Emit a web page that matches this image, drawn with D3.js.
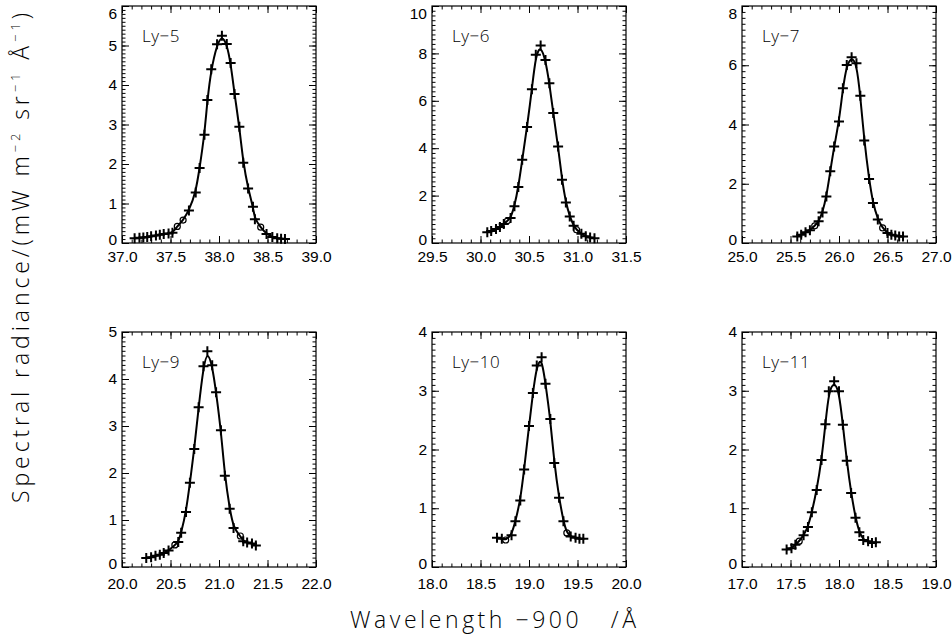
<!DOCTYPE html>
<html>
<head>
<meta charset="utf-8">
<script src="https://cdn.jsdelivr.net/npm/d3@7"></script>
<style>
  body { margin: 0; background: #fff; }
  svg { display: block; }
  .tick text { font-family: "Liberation Sans", Arial, sans-serif; font-size: 15.5px; fill: #000; }
  .title { font-family: "Open Sans", "DejaVu Sans", sans-serif; font-weight: 300; fill: #000; }
</style>
</head>
<body>
<div id="chart"></div>
<script>
// Lyman line profiles, wavelength offset from 900 A, radiance in mW m-2 sr-1 A-1

var ly5Wave = [37.13, 37.18, 37.22, 37.26, 37.30, 37.35, 37.39, 37.43, 37.48, 37.52, 37.57, 37.63, 37.69, 37.76, 37.80, 37.85, 37.88, 37.92, 37.98, 38.03, 38.08, 38.12, 38.16, 38.21, 38.25, 38.30, 38.35, 38.37, 38.43, 38.49, 38.55, 38.60, 38.64, 38.68];
var ly5Rad  = [0.12, 0.13, 0.14, 0.15, 0.17, 0.19, 0.21, 0.23, 0.24, 0.26, 0.42, 0.58, 0.82, 1.28, 1.90, 2.74, 3.62, 4.40, 5.03, 5.25, 5.04, 4.56, 3.77, 2.94, 2.03, 1.38, 0.92, 0.60, 0.40, 0.23, 0.15, 0.12, 0.11, 0.10];
var ly5Open = [10, 11, 28];

var ly6Wave = [30.07, 30.11, 30.16, 30.20, 30.24, 30.28, 30.31, 30.35, 30.39, 30.43, 30.48, 30.53, 30.57, 30.62, 30.67, 30.71, 30.75, 30.80, 30.84, 30.88, 30.92, 30.96, 30.99, 31.04, 31.085, 31.13, 31.175];
var ly6Rad  = [0.45, 0.51, 0.59, 0.67, 0.80, 0.95, 1.05, 1.55, 2.36, 3.51, 4.89, 6.49, 7.94, 8.33, 7.72, 6.74, 5.48, 4.07, 2.67, 1.71, 1.12, 0.73, 0.56, 0.39, 0.28, 0.23, 0.20];
var ly6Open = [5, 22];

var ly7Wave = [25.57, 25.61, 25.655, 25.70, 25.75, 25.79, 25.83, 25.87, 25.91, 25.95, 26.00, 26.04, 26.08, 26.13, 26.18, 26.22, 26.26, 26.31, 26.35, 26.40, 26.45, 26.50, 26.54, 26.58, 26.62, 26.66];
var ly7Rad  = [0.22, 0.28, 0.36, 0.43, 0.58, 0.73, 1.03, 1.57, 2.42, 3.26, 4.10, 5.22, 6.01, 6.27, 6.07, 4.97, 3.46, 2.16, 1.35, 0.79, 0.51, 0.34, 0.28, 0.25, 0.22, 0.22];
var ly7Open = [4, 20];

var ly9Wave = [20.25, 20.30, 20.345, 20.39, 20.43, 20.48, 20.545, 20.58, 20.61, 20.66, 20.70, 20.745, 20.79, 20.84, 20.88, 20.93, 20.97, 21.02, 21.06, 21.11, 21.15, 21.22, 21.25, 21.29, 21.34, 21.38];
var ly9Rad  = [0.19, 0.21, 0.24, 0.26, 0.30, 0.35, 0.47, 0.53, 0.73, 1.17, 1.79, 2.51, 3.40, 4.27, 4.59, 4.29, 3.72, 2.91, 1.94, 1.24, 0.83, 0.66, 0.55, 0.52, 0.50, 0.46];
var ly9Open = [6, 21];

var ly10Wave = [18.67, 18.72, 18.76, 18.82, 18.86, 18.91, 18.95, 19.00, 19.04, 19.08, 19.13, 19.17, 19.22, 19.26, 19.31, 19.355, 19.39, 19.43, 19.48, 19.52, 19.56];
var ly10Rad  = [0.50, 0.48, 0.46, 0.54, 0.78, 1.13, 1.66, 2.40, 2.96, 3.43, 3.57, 3.12, 2.52, 1.77, 1.18, 0.78, 0.58, 0.52, 0.50, 0.48, 0.48];
var ly10Open = [2, 16];

var ly11Wave = [17.46, 17.51, 17.55, 17.59, 17.635, 17.68, 17.72, 17.77, 17.82, 17.86, 17.895, 17.95, 18.00, 18.04, 18.08, 18.125, 18.17, 18.21, 18.25, 18.30, 18.34, 18.38];
var ly11Rad  = [0.30, 0.32, 0.38, 0.44, 0.54, 0.68, 0.93, 1.31, 1.82, 2.43, 2.99, 3.16, 2.99, 2.42, 1.81, 1.26, 0.84, 0.59, 0.46, 0.44, 0.41, 0.42];
var ly11Open = [3];

var lineLabels = ["Ly\u22125", "Ly\u22126", "Ly\u22127", "Ly\u22129", "Ly\u221210", "Ly\u221211"];
var xRanges = [[37, 39], [29.5, 31.5], [25, 27], [20, 22], [18, 20], [17, 19]];
var yRanges = [[0, 6], [0, 10], [0, 8], [0, 5], [0, 4], [0, 4]];
var yMajor  = [1, 2, 2, 1, 1, 1];

var waves = [ly5Wave, ly6Wave, ly7Wave, ly9Wave, ly10Wave, ly11Wave];
var rads  = [ly5Rad, ly6Rad, ly7Rad, ly9Rad, ly10Rad, ly11Rad];
var opens = [ly5Open, ly6Open, ly7Open, ly9Open, ly10Open, ly11Open];

var W = 952, H = 641;
var colLeft = [122, 432, 742];
var rowTop = [6, 332];
var pw = 194, ph = [237, 235];
var xPad = [8, 11];

var svg = d3.select("#chart").append("svg")
    .attr("width", W)
    .attr("height", H);

svg.append("rect").attr("width", W).attr("height", H).attr("fill", "#fff");

function draw_panel(i)
{
    var col = i % 3, row = Math.floor(i / 3);
    var h = ph[row];
    var g = svg.append("g")
        .attr("transform", `translate(${colLeft[col]},${rowTop[row]})`);

    var x = d3.scaleLinear().domain(xRanges[i]).range([0, pw]);
    var y = d3.scaleLinear().domain(yRanges[i]).range([h, 0]);

    var xMaj = d3.range(xRanges[i][0], xRanges[i][1] + 1e-6, 0.5);
    var xMin = d3.range(xRanges[i][0], xRanges[i][1] + 1e-6, 0.1);
    var yMaj = d3.range(yRanges[i][0], yRanges[i][1] + 1e-6, yMajor[i]);
    var yMin = d3.range(yRanges[i][0], yRanges[i][1] + 1e-6, yMajor[i] / 10);

    // minor ticks, all four sides, pointing in
    g.append("g").attr("transform", `translate(0,${h})`)
        .call(d3.axisBottom(x).tickValues(xMin).tickSize(-3.5).tickFormat(""));
    g.append("g")
        .call(d3.axisTop(x).tickValues(xMin).tickSize(-3.5).tickFormat(""));
    g.append("g")
        .call(d3.axisLeft(y).tickValues(yMin).tickSize(-3.5).tickFormat(""));
    g.append("g").attr("transform", `translate(${pw},0)`)
        .call(d3.axisRight(y).tickValues(yMin).tickSize(-3.5).tickFormat(""));

    // major ticks
    g.append("g").attr("transform", `translate(0,${h})`)
        .call(d3.axisBottom(x).tickValues(xMaj).tickSize(-7).tickPadding(xPad[row]).tickFormat(d3.format(".1f")));
    g.append("g")
        .call(d3.axisTop(x).tickValues(xMaj).tickSize(-7).tickFormat(""));
    var yl = g.append("g")
        .call(d3.axisLeft(y).tickValues(yMaj).tickSize(-7).tickPadding(5).tickFormat(d3.format("d")));
    g.append("g").attr("transform", `translate(${pw},0)`)
        .call(d3.axisRight(y).tickValues(yMaj).tickSize(-7).tickFormat(""));

    // zero sits a bit high, top label of the upper row kept inside the page
    yl.selectAll(".tick text").attr("dy", (d) => {
        if (d === yRanges[i][0]) return "0.1em";
        if (d === yRanges[i][1] && row === 0) return "0.8em";
        return "0.3em";
    });

    g.selectAll(".domain").remove();
    g.selectAll(".tick line").attr("stroke", "#000").attr("stroke-width", 1);

    g.append("rect")
        .attr("width", pw).attr("height", h)
        .attr("fill", "none").attr("stroke", "#000").attr("stroke-width", 1.2);

    var pts = waves[i].map((w, k) => ({ w: w, r: rads[i][k], open: opens[i].indexOf(k) >= 0 }));

    var line = d3.line()
        .x(d => x(d.w))
        .y(d => y(d.r))
        .curve(d3.curveBasis);

    g.append("path")
        .datum(pts)
        .attr("d", line)
        .attr("fill", "none")
        .attr("stroke", "#000")
        .attr("stroke-width", 2);

    // plus symbols
    var s = 5;
    g.selectAll(".plus")
        .data(pts.filter(d => !d.open))
        .enter().append("path")
        .attr("class", "plus")
        .attr("d", d => `M${x(d.w) - s},${y(d.r)}H${x(d.w) + s}M${x(d.w)},${y(d.r) - s}V${y(d.r) + s}`)
        .attr("stroke", "#000")
        .attr("stroke-width", 2)
        .attr("fill", "none");

    g.selectAll(".opn")
        .data(pts.filter(d => d.open))
        .enter().append("circle")
        .attr("class", "opn")
        .attr("cx", d => x(d.w))
        .attr("cy", d => y(d.r))
        .attr("r", 3)
        .attr("fill", "none")
        .attr("stroke", "#000")
        .attr("stroke-width", 1.2);

    g.append("text")
        .attr("class", "title")
        .attr("x", 20)
        .attr("y", 36)
        .attr("font-size", 17)
        .attr("font-weight", 400)
        .attr("letter-spacing", 0.5)
        .text(lineLabels[i]);
}

for (var i = 0; i < 6; i++) draw_panel(i);

svg.append("text")
    .attr("class", "title")
    .attr("transform", "translate(29,258) rotate(-90)")
    .attr("text-anchor", "middle")
    .attr("font-size", 23)
    .attr("textLength", 490)
    .attr("lengthAdjust", "spacing")
    .html('Spectral radiance/(mW m<tspan dy="-9" font-size="13">\u22122</tspan><tspan dy="9"> sr</tspan><tspan dy="-9" font-size="13">\u22121</tspan><tspan dy="9"> \u00c5</tspan><tspan dy="-9" font-size="13">\u22121</tspan><tspan dy="9">)</tspan>');

svg.append("text")
    .attr("class", "title")
    .attr("x", 493)
    .attr("y", 628)
    .attr("text-anchor", "middle")
    .attr("font-size", 23)
    .attr("textLength", 286)
    .attr("lengthAdjust", "spacing")
    .attr("xml:space", "preserve")
    .style("white-space", "pre")
    .text("Wavelength \u2212900   /\u00c5");
</script>
</body>
</html>
